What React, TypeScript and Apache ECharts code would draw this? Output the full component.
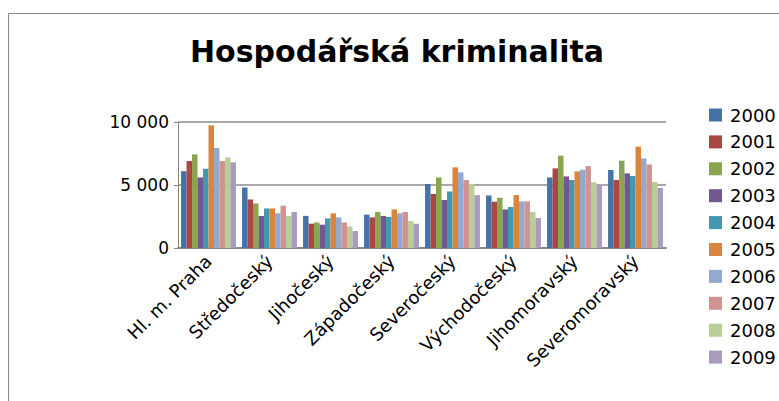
import React, { useEffect, useRef } from "react";
import * as echarts from "echarts";

const categories = [
  "Hl. m. Praha",
  "Středočeský",
  "Jihočeský",
  "Západočeský",
  "Severočeský",
  "Východočeský",
  "Jihomoravský",
  "Severomoravský",
];

const years = ["2000", "2001", "2002", "2003", "2004", "2005", "2006", "2007", "2008", "2009"];

// values per year, in category order
const v2000 = [6100, 4800, 2550, 2650, 5080, 4170, 5600, 6190];
const v2001 = [6900, 3850, 1930, 2430, 4290, 3670, 6320, 5400];
const v2002 = [7430, 3540, 2030, 2860, 5600, 3990, 7330, 6930];
const v2003 = [5600, 2540, 1850, 2540, 3810, 3060, 5680, 5920];
const v2004 = [6290, 3140, 2350, 2460, 4490, 3250, 5400, 5710];
const v2005 = [9730, 3140, 2750, 3060, 6400, 4200, 6080, 8040];
const v2006 = [7940, 2750, 2430, 2750, 6000, 3700, 6210, 7110];
const v2007 = [6900, 3360, 2030, 2860, 5400, 3700, 6500, 6630];
const v2008 = [7190, 2540, 1710, 2140, 5080, 2860, 5210, 5240];
const v2009 = [6800, 2860, 1350, 1930, 4200, 2380, 5020, 4760];

const seriesValues = [v2000, v2001, v2002, v2003, v2004, v2005, v2006, v2007, v2008, v2009];

const colors = [
  "#4572A7",
  "#AA4643",
  "#89A54E",
  "#71588F",
  "#4198AF",
  "#DB843D",
  "#93A9CF",
  "#D19392",
  "#B9CD96",
  "#A99BBD",
];

const FONT = "'DejaVu Sans', 'Open Sans', sans-serif";

export default function App() {
  const ref = useRef<HTMLDivElement>(null);

  useEffect(() => {
    if (!ref.current) return;
    const chart = echarts.init(ref.current, undefined, { renderer: "svg" });
    chart.setOption({
      animation: false,
      backgroundColor: "#ffffff",
      color: colors,
      title: {
        text: "Hospodářská kriminalita",
        left: 392,
        textAlign: "center",
        top: 31,
        textStyle: {
          fontFamily: FONT,
          fontSize: 30,
          fontWeight: "bold",
          color: "#000000",
        },
      },
      legend: {
        orient: "vertical",
        left: 704,
        top: 101,
        itemWidth: 13,
        itemHeight: 13,
        itemGap: 8.9,
        icon: "rect",
        textStyle: { fontFamily: FONT, fontSize: 18, color: "#000000", padding: [0, 0, 0, 3] },
        data: years,
      },
      grid: {
        left: 178,
        right: 113,
        top: 122,
        bottom: 153,
        containLabel: false,
      },
      xAxis: {
        type: "category",
        data: categories,
        axisLine: { show: true, lineStyle: { color: "#868686", width: 2 } },
        axisTick: { show: false },
        axisLabel: {
          rotate: 45,
          interval: 0,
          margin: 10,
          fontFamily: FONT,
          fontSize: 18,
          color: "#000000",
        },
      },
      yAxis: {
        type: "value",
        min: 0,
        max: 10000,
        interval: 5000,
        axisLine: { show: true, lineStyle: { color: "#868686", width: 1 } },
        axisTick: { show: true, length: 4, lineStyle: { color: "#868686" } },
        splitLine: { show: true, lineStyle: { color: "#8c8c8c", width: 1.5 } },
        axisLabel: {
          margin: 9,
          fontFamily: FONT,
          fontSize: 17,
          color: "#000000",
          formatter: (v: number) => (v >= 1000 ? String(v).replace(/(\d)(?=(\d{3})+$)/g, "$1 ") : String(v)),
        },
      },
      graphic: [
        {
          type: "rect",
          shape: { x: 8.5, y: 13.5, width: 1000, height: 1000 },
          style: { fill: "none", stroke: "#898989", lineWidth: 1 },
          silent: true,
        },
      ],
      series: seriesValues.map((vals, i) => ({
        name: years[i],
        type: "bar",
        data: vals,
        barGap: "0%",
        barCategoryGap: "10%",
        itemStyle: {
          color: colors[i],
        },
      })),
    });
    return () => chart.dispose();
  }, []);

  return (
    <div
      ref={ref}
      style={{ position: "fixed", left: 0, top: 0, width: 779, height: 401 }}
    />
  );
}
